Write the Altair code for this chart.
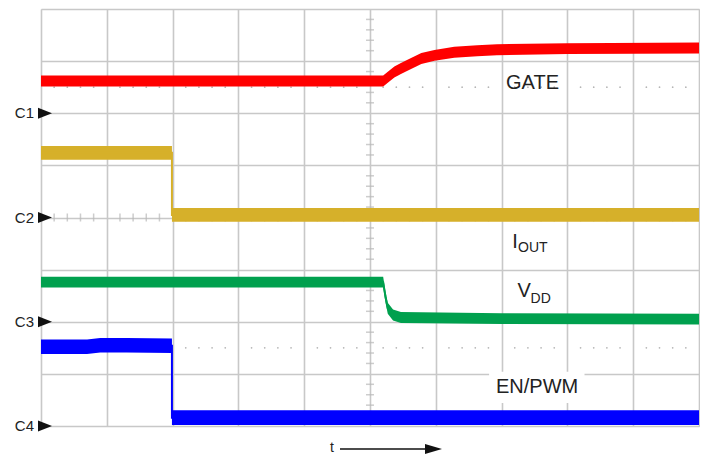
import altair as alt
import pandas as pd

# ---- trace data (x in divisions 0..10, y in divisions 0..8) ----
gate_x = [0, 2, 4, 5.20, 5.28, 5.37, 5.47, 5.57, 5.78, 5.98, 6.28, 6.63, 6.93, 8.0, 10.0]
gate_y = [6.62, 6.62, 6.62, 6.62, 6.70, 6.79, 6.86, 6.92, 7.05, 7.11, 7.17, 7.20, 7.22, 7.24, 7.25]

iout_x = [0, 1.99, 1.99, 10]
iout_y = [5.24, 5.24, 4.05, 4.05]

vdd_x = [0, 5.20, 5.235, 5.27, 5.35, 5.47, 7.0, 10.0]
vdd_y = [2.76, 2.76, 2.48, 2.26, 2.13, 2.08, 2.06, 2.05]

en_x = [0, 0.7, 0.9, 1.3, 1.99, 1.99, 10]
en_y = [1.52, 1.52, 1.55, 1.55, 1.54, 0.16, 0.16]

series_names = ["GATE", "IOUT", "VDD", "EN/PWM"]
series_colors = ["#ff0000", "#d6b02a", "#00a04e", "#0000ff"]

channel_labels = ["C1", "C2", "C3", "C4"]
channel_levels = [6, 4, 2, 0]

# ---- styles ----
half_thick = {"GATE": 0.105, "IOUT": 0.13, "VDD": 0.105, "EN/PWM": 0.14}
GRID = "#c8c8c8"
TXT = "#222222"
FONT = "Liberation Sans"

rows = []
for name, xs, ys in [("GATE", gate_x, gate_y), ("IOUT", iout_x, iout_y),
                     ("VDD", vdd_x, vdd_y), ("EN/PWM", en_x, en_y)]:
    h = half_thick[name]
    for i, (xv, yv) in enumerate(zip(xs, ys)):
        rows.append({"series": name, "i": i, "x": xv, "y": yv, "lo": yv - h, "hi": yv + h})
traces = pd.DataFrame(rows)

xs_scale = alt.Scale(domain=[0, 10], nice=False, zero=False)
ys_scale = alt.Scale(domain=[0, 8], nice=False, zero=False)
color = alt.Color("series:N", scale=alt.Scale(domain=series_names, range=series_colors), legend=None)

# grid layer
grid_df = pd.DataFrame({"x": [0, 10], "y": [0, 8]})
grid = alt.Chart(grid_df).mark_point(opacity=0).encode(
    x=alt.X("x:Q", scale=xs_scale, axis=alt.Axis(values=list(range(11)), labels=False, ticks=False,
                                                 domain=False, grid=True, gridColor=GRID, gridWidth=1.6, title=None)),
    y=alt.Y("y:Q", scale=ys_scale, axis=alt.Axis(values=list(range(9)), labels=False, ticks=False,
                                                 domain=False, grid=True, gridColor=GRID, gridWidth=1.6, title=None)),
)

# sub-division markers
sub = [k / 5 for k in range(1, 50) if k % 5 != 0]
sub_y = [k / 5 for k in range(1, 40) if k % 5 != 0]
dots_df = pd.DataFrame([{"x": s, "y": lvl} for lvl in (1.5, 6.5) for s in sub])
dots = alt.Chart(dots_df).mark_circle(size=3, color="#b5b5b5", opacity=1).encode(
    x=alt.X("x:Q", scale=xs_scale), y=alt.Y("y:Q", scale=ys_scale))

vt_df = pd.DataFrame({"x": [5] * len(sub_y), "y": sub_y})
vticks = alt.Chart(vt_df).mark_tick(orient="horizontal", size=8, thickness=1.5, color="#b8b8b8").encode(
    x=alt.X("x:Q", scale=xs_scale), y=alt.Y("y:Q", scale=ys_scale))
ht_df = pd.DataFrame({"x": sub, "y": [4] * len(sub)})
hticks = alt.Chart(ht_df).mark_tick(orient="vertical", size=8, thickness=1.5, color="#b8b8b8").encode(
    x=alt.X("x:Q", scale=xs_scale), y=alt.Y("y:Q", scale=ys_scale))

band = alt.Chart(traces).mark_area(clip=True, opacity=1).encode(
    x=alt.X("x:Q", scale=xs_scale),
    y=alt.Y("lo:Q", scale=ys_scale),
    y2="hi:Q",
    color=color,
    detail="series:N",
)
core = alt.Chart(traces).mark_line(clip=True, strokeWidth=2).encode(
    x=alt.X("x:Q", scale=xs_scale),
    y=alt.Y("y:Q", scale=ys_scale),
    color=color,
    detail="series:N",
    order="i:Q",
)

# labels
box_df = pd.DataFrame({"x": [6.81], "x2": [8.26], "y": [0.44], "y2": [1.04]})
box = alt.Chart(box_df).mark_rect(color="white").encode(
    x=alt.X("x:Q", scale=xs_scale), x2="x2:Q", y=alt.Y("y:Q", scale=ys_scale), y2="y2:Q")

lab_df = pd.DataFrame([
    {"t": "GATE", "x": 7.47, "y": 6.47, "s": 20, "a": "center"},
    {"t": "I", "x": 7.16, "y": 3.42, "s": 20, "a": "left"},
    {"t": "OUT", "x": 7.25, "y": 3.34, "s": 14, "a": "left"},
    {"t": "V", "x": 7.24, "y": 2.48, "s": 20, "a": "left"},
    {"t": "DD", "x": 7.44, "y": 2.36, "s": 14, "a": "left"},
    {"t": "EN/PWM", "x": 7.54, "y": 0.63, "s": 20, "a": "center"},
])
labels = alt.layer(*[
    alt.Chart(lab_df[lab_df.t == r.t]).mark_text(font=FONT, fontSize=r.s, align=r.a, baseline="alphabetic",
                                                 color=TXT).encode(
        x=alt.X("x:Q", scale=xs_scale), y=alt.Y("y:Q", scale=ys_scale), text="t:N")
    for r in lab_df.itertuples()
])

ch_df = pd.DataFrame({"c": channel_labels, "y": channel_levels})
ch_text = alt.Chart(ch_df).mark_text(font=FONT, fontSize=15, align="right", baseline="middle", color=TXT).encode(
    x=alt.value(-7), y=alt.Y("y:Q", scale=ys_scale), text="c:N")
ch_tri = alt.Chart(ch_df).mark_point(shape="M-1,-0.79L1,0L-1,0.79Z", size=196, filled=True, opacity=1,
                                     color="#111111").encode(
    x=alt.value(4), y=alt.Y("y:Q", scale=ys_scale))

t_df = pd.DataFrame({"t": ["t"]})
t_text = alt.Chart(t_df).mark_text(font=FONT, fontSize=14, align="center", baseline="middle", color=TXT).encode(
    x=alt.value(291), y=alt.value(439), text="t:N")
t_line = alt.Chart(t_df).mark_rule(color="#111111", strokeWidth=1.5).encode(
    x=alt.value(299), x2=alt.value(388), y=alt.value(440))
t_head = alt.Chart(t_df).mark_point(shape="M-1,-0.6L1,0L-1,0.6Z", size=289, filled=True, opacity=1,
                                    color="#111111").encode(x=alt.value(392.5), y=alt.value(440))

chart = alt.layer(grid, dots, vticks, hticks, band, core, box, labels, ch_text, ch_tri, t_text, t_line, t_head
                  ).properties(
    width=658, height=417,
    padding={"left": 33, "top": 1, "right": 1, "bottom": 31},
    autosize=alt.AutoSizeParams(type="none"),
).configure_view(stroke="#2e2e2e", strokeWidth=1.5).configure(background="white")

chart.save("out.html", embed_options={"renderer": "svg", "actions": False})
